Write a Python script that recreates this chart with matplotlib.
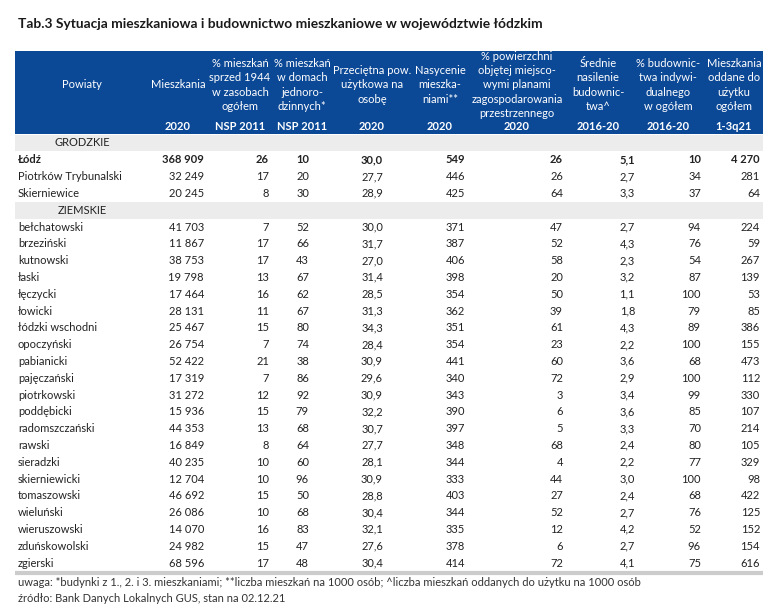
import matplotlib
matplotlib.use("Agg")
import matplotlib.pyplot as plt
from matplotlib.patches import Rectangle

plt.rcParams['font.family'] = ['Lato', 'DejaVu Sans']

title = "Tab.3 Sytuacja mieszkaniowa i budownictwo mieszkaniowe w województwie łódzkim"
col_headers = ["Mieszkania",
               "% mieszkań\nsprzed 1944\nw zasobach\nogółem",
               "% mieszkań\nw domach\njednoro-\ndzinnych*",
               "Przeciętna pow.\nużytkowa na\nosobę",
               "Nasycenie\nmieszka-\nniami**",
               "% powierzchni\nobjętej miejsco-\nwymi planami\nzagospodarowania\nprzestrzennego",
               "Średnie\nnasilenie\nbudownic-\ntwa^",
               "% budownic-\ntwa indywi-\ndualnego\nw ogółem",
               "Mieszkania\noddane do\nużytku\nogółem"]
col_years = ["2020", "NSP 2011", "NSP 2011", "2020", "2020", "2020", "2016-20", "2016-20", "1-3q21"]
decimals = [0, 0, 0, 1, 0, 0, 1, 0, 0]

group1_name = "GRODZKIE"
group1_rows = ["Łódź", "Piotrków Trybunalski", "Skierniewice"]
group1_vals = [
    [368909, 26, 10, 30.0, 549, 26, 5.1, 10, 4270],
    [32249, 17, 20, 27.7, 446, 26, 2.7, 34, 281],
    [20245, 8, 30, 28.9, 425, 64, 3.3, 37, 64],
]
group2_name = "ZIEMSKIE"
group2_rows = ["bełchatowski", "brzeziński", "kutnowski", "łaski", "łęczycki", "łowicki",
               "łódzki wschodni", "opoczyński", "pabianicki", "pajęczański", "piotrkowski",
               "poddębicki", "radomszczański", "rawski", "sieradzki", "skierniewicki",
               "tomaszowski", "wieluński", "wieruszowski", "zduńskowolski", "zgierski"]
group2_vals = [
    [41703, 7, 52, 30.0, 371, 47, 2.7, 94, 224],
    [11867, 17, 66, 31.7, 387, 52, 4.3, 76, 59],
    [38753, 17, 43, 27.0, 406, 58, 2.3, 54, 267],
    [19798, 13, 67, 31.4, 398, 20, 3.2, 87, 139],
    [17464, 16, 62, 28.5, 354, 50, 1.1, 100, 53],
    [28131, 11, 67, 31.3, 362, 39, 1.8, 79, 85],
    [25467, 15, 80, 34.3, 351, 61, 4.3, 89, 386],
    [26754, 7, 74, 28.4, 354, 23, 2.2, 100, 155],
    [52422, 21, 38, 30.9, 441, 60, 3.6, 68, 473],
    [17319, 7, 86, 29.6, 340, 72, 2.9, 100, 112],
    [31272, 12, 92, 30.9, 343, 3, 3.4, 99, 330],
    [15936, 15, 79, 32.2, 390, 6, 3.6, 85, 107],
    [44353, 13, 68, 30.7, 397, 5, 3.3, 70, 214],
    [16849, 8, 64, 27.7, 348, 68, 2.4, 80, 105],
    [40235, 10, 60, 28.1, 344, 4, 2.2, 77, 329],
    [12704, 10, 96, 30.9, 333, 44, 3.0, 100, 98],
    [46692, 15, 50, 28.8, 403, 27, 2.4, 68, 422],
    [26086, 10, 68, 30.4, 344, 52, 2.7, 76, 125],
    [14070, 16, 83, 32.1, 335, 12, 4.2, 52, 152],
    [24982, 15, 47, 27.6, 378, 6, 2.7, 96, 154],
    [68596, 17, 48, 30.4, 414, 72, 4.1, 75, 616],
]
bold_rows = ["Łódź"]
footnotes = ["uwaga: *budynki z 1., 2. i 3. mieszkaniami; **liczba mieszkań na 1000 osób; ^liczba mieszkań oddanych do użytku na 1000 osób",
             "źródło: Bank Danych Lokalnych GUS, stan na 02.12.21"]

# ---- layout (pixels) ----
W, H = 777, 612
BLUE = "#0b4896"
GRAY = "#ececec"
TXT = "#222222"
left, right = 15, 763
head_top, head_bot = 51, 134
col_right = [204, 269, 309, 383, 465, 563, 635, 701, 760]
col_center = [178, 240, 302, 372, 440, 517, 598, 668, 734]
label_x = 18
group_x = 82
first_y = 143
step = 16.8
fs = 8.0


def fmt(v, d):
    if d == 0:
        s = f"{int(round(v)):,}".replace(",", " ")
    else:
        s = f"{v:.{d}f}".replace(".", ",")
    return s


fig = plt.figure(figsize=(W / 100, H / 100), dpi=100)
ax = fig.add_axes([0, 0, 1, 1])
ax.set_xlim(0, W)
ax.set_ylim(H, 0)
ax.axis("off")

ax.text(18, 24, title, fontsize=9.9, fontweight="bold", color="#1a1a1a", va="center", ha="left")

ax.add_patch(Rectangle((left, head_top), right - left, head_bot - head_top, color=BLUE, lw=0))
ax.text(group_x, 85, "Powiaty", color="white", fontsize=fs, ha="center", va="center")
for c, (h, yr) in enumerate(zip(col_headers, col_years)):
    ax.text(col_center[c], 85, h, color="white", fontsize=fs, ha="center", va="center",
            linespacing=1.35)
    ax.text(col_center[c], 126, yr, color="white", fontsize=fs, ha="center", va="center",
            fontweight="bold")

y = first_y
for gname, rows, vals in [(group1_name, group1_rows, group1_vals),
                          (group2_name, group2_rows, group2_vals)]:
    ax.add_patch(Rectangle((left, y - step / 2), right - left, step, color=GRAY, lw=0))
    ax.text(group_x, y, gname, fontsize=fs, color=TXT, ha="center", va="center")
    y += step
    for name, row in zip(rows, vals):
        w = "bold" if name in bold_rows else "normal"
        ax.text(label_x, y, name, fontsize=fs, color=TXT, ha="left", va="center", fontweight=w)
        for c, v in enumerate(row):
            ax.text(col_right[c], y, fmt(v, decimals[c]), fontsize=fs, color=TXT,
                    ha="right", va="center", fontweight=w)
        y += step

line_y = y - step / 2 + 1.5
ax.plot([left, right], [line_y, line_y], color="#cccccc", lw=3, solid_capstyle="butt")

ax.text(18, 582, footnotes[0], fontsize=8.0, color="#333333", ha="left", va="center")
ax.text(18, 599, footnotes[1], fontsize=8.0, color="#333333", ha="left", va="center")

fig.savefig("out.png", dpi=100)
